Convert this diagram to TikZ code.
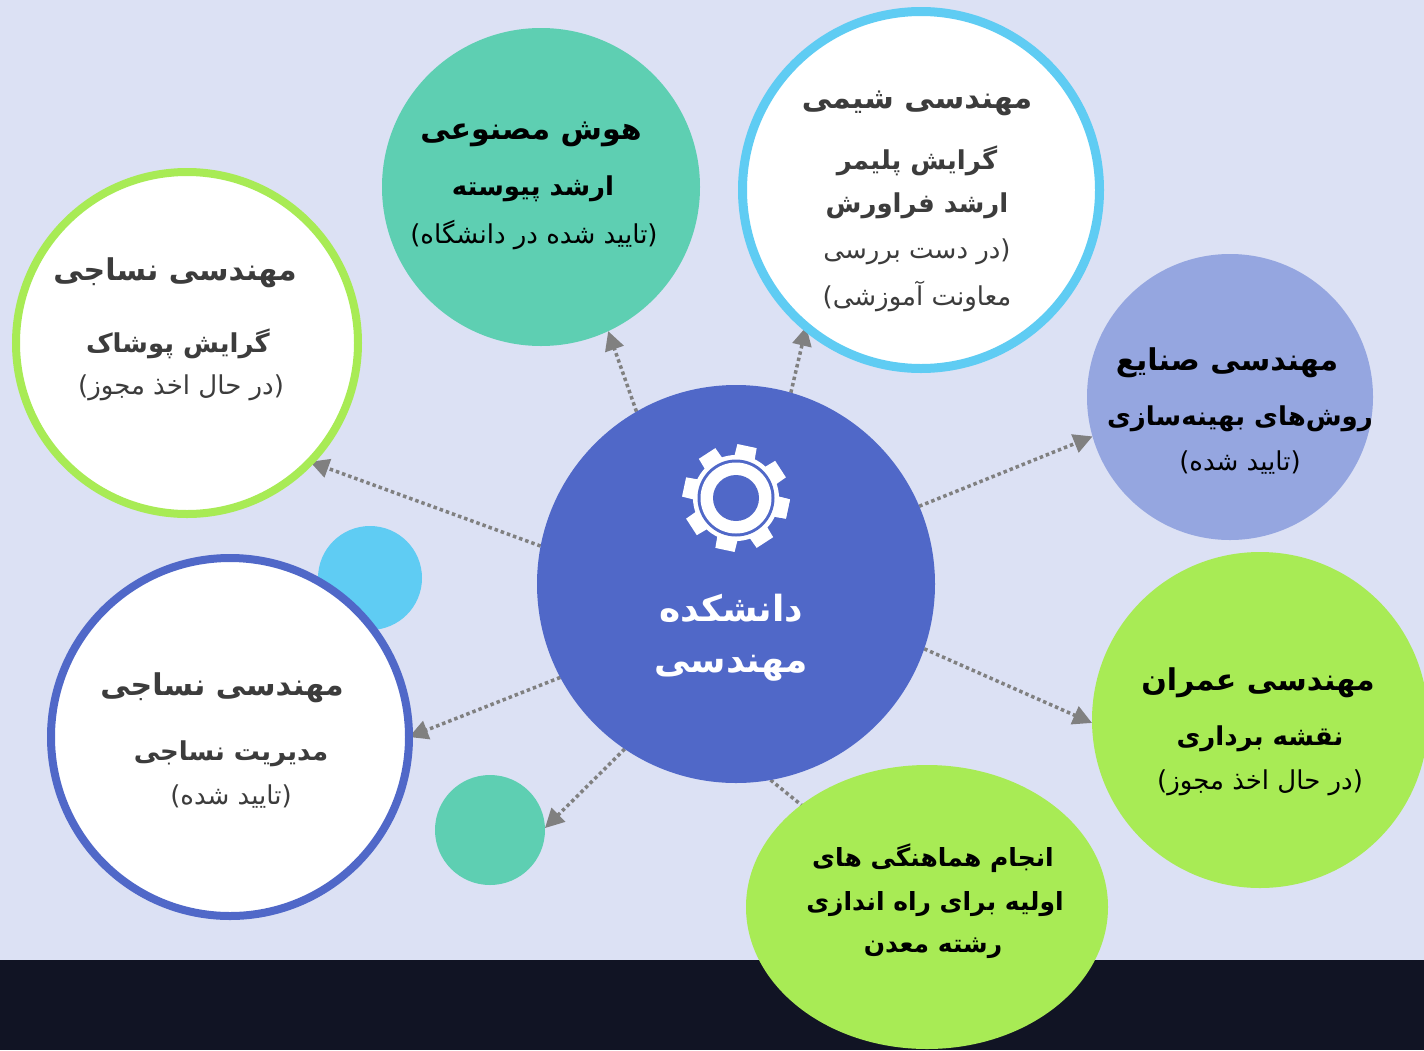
\documentclass[tikz,border=0pt]{standalone}
\usepackage{fontspec}
\usetikzlibrary{arrows.meta,shapes.geometric}
\TeXXeTstate=1
\newfontfamily\fa[Script=Arabic]{DejaVu Sans}
\definecolor{bgc}{HTML}{DCE1F4}
\definecolor{darkband}{HTML}{111424}
\definecolor{cblue}{HTML}{5068C8}
\definecolor{tealc}{HTML}{5ECFB2}
\definecolor{lblue}{HTML}{5FCCF3}
\definecolor{purplec}{HTML}{95A6E0}
\definecolor{greenc}{HTML}{A8EB55}
\definecolor{txtgray}{HTML}{3C3C3C}
\definecolor{arrgray}{HTML}{808080}
\pgfdeclarelayer{bgl}
\pgfdeclarelayer{arl}
\pgfsetlayers{bgl,arl,main}
\begin{document}
\begin{tikzpicture}[x=1pt,y=-1pt,
  disc/.style={circle,inner sep=0pt,outer sep=0pt},
  ttl/.style={font=\fa\bfseries\fontsize{30}{32}\selectfont,inner sep=0pt},
  sub/.style={font=\fa\bfseries\fontsize{26}{28}\selectfont,inner sep=0pt},
  mn/.style={font=\fa\bfseries\fontsize{25}{27}\selectfont,inner sep=0pt},
  note/.style={font=\fa\fontsize{26}{28}\selectfont,inner sep=0pt},
  ctr/.style={font=\fa\bfseries\fontsize{36}{38}\selectfont,inner sep=0pt,text=white},
  arr/.style={draw=arrgray,line width=3.5pt,dash pattern=on 3.5pt off 3pt,
    -{Triangle[length=19pt,width=19pt]}}]
\useasboundingbox (0,0) rectangle (1424,1050);
\begin{pgfonlayer}{bgl}
  \fill[bgc] (0,0) rectangle (1424,1050);
  \fill[darkband] (0,960) rectangle (1424,1050);
\end{pgfonlayer}

% circles
\node[disc,fill=tealc,minimum size=318pt] (ai) at (541,187) {};
\node[disc,fill=white,draw=lblue,line width=9pt,minimum size=357pt] (chem) at (921,190) {};
\node[disc,fill=white,draw=greenc,line width=8pt,minimum size=342pt] (lt) at (187,343) {};
\node[disc,fill=purplec,minimum size=286pt] (ind) at (1230,397) {};
\node[disc,fill=greenc,minimum size=336pt] (civ) at (1260,720) {};
\node[ellipse,inner sep=0pt,outer sep=0pt,fill=greenc,minimum width=362pt,minimum height=284pt] (mine) at (927,907) {};
\node[disc,fill=lblue,minimum size=104pt] (sb) at (370,578) {};
\node[disc,fill=white,draw=cblue,line width=8pt,minimum size=358pt] (lb) at (230,737) {};
\node[disc,fill=tealc,minimum size=110pt] (st) at (490,830) {};
\node[disc,fill=cblue,minimum size=398pt] (c) at (736,584) {};

% connectors
\begin{pgfonlayer}{arl}
  \draw[arr] (c.120.8) -- (ai.-65.6);
  \draw[arr] (c.74.4) -- (chem.-130.9);
  \draw[arr] (c.23.1) -- (ind.-164);
  \draw[arr] (c.-19.6) -- (civ.181);
  \draw[arr] (c.-80.8) -- (mine.center);
  \draw[arr] (c.-124.2) -- (st.2);
  \draw[arr] (c.-152.8) -- (lb.-0.3);
  \draw[arr] (c.169.4) -- (lt.-44);
\end{pgfonlayer}

% gear icon
\begin{scope}[shift={(736,498)}]
  \fill[white] (0,0) circle (43);
  \foreach \a in {12,57,...,372} {
    \fill[white] (\a-16:38) -- (\a-10.5:54) -- (\a+10.5:54) -- (\a+16:38) -- cycle;
  }
  \fill[cblue] (0,0) circle (38.5);
  \fill[white] (0,0) circle (35.5);
  \fill[cblue] (0,0) circle (23);
\end{scope}

% center text
\node[ctr] (c1) at (731,608) {\beginR دانشکده\endR};
\node[ctr] (c2) at (731,668) {\beginR مهندسی\endR};

% AI
\node[ttl] (ai1) at (531,134) {\beginR هوش مصنوعی\endR};
\node[sub] (ai2) at (533,189) {\beginR ارشد پیوسته\endR};
\node[note] (ai3) at (534,235) {\beginR (تایید شده در دانشگاه)\endR};

% chemistry
\node[ttl,text=txtgray] (ch1) at (917,103) {\beginR مهندسی شیمی\endR};
\node[sub,text=txtgray] (ch2) at (917,161) {\beginR گرایش پلیمر\endR};
\node[sub,text=txtgray] (ch3) at (917,206) {\beginR ارشد فراورش\endR};
\node[note,text=txtgray] (ch4) at (917,252) {\beginR (در دست بررسی\endR};
\node[note,text=txtgray] (ch5) at (917,296) {\beginR معاونت آموزشی)\endR};

% left top
\node[ttl,text=txtgray] (lt1) at (175,273) {\beginR مهندسی نساجی\endR};
\node[sub,text=txtgray] (lt2) at (178,344) {\beginR گرایش پوشاک\endR};
\node[note,text=txtgray] (lt3) at (181,388) {\beginR (در حال اخذ مجوز)\endR};

% industrial
\node[ttl] (in1) at (1227,363) {\beginR مهندسی صنایع\endR};
\node[sub] (in2) at (1240,419) {\beginR روش‌های بهینه‌سازی\endR};
\node[note] (in3) at (1240,463) {\beginR (تایید شده)\endR};

% civil
\node[ttl] (cv1) at (1258,683) {\beginR مهندسی عمران\endR};
\node[sub] (cv2) at (1260,739) {\beginR نقشه برداری\endR};
\node[note] (cv3) at (1260,783) {\beginR (در حال اخذ مجوز)\endR};

% mining
\node[mn] (mn1) at (933,858) {\beginR انجام هماهنگی های\endR};
\node[mn] (mn2) at (935,904) {\beginR اولیه برای راه اندازی\endR};
\node[mn] (mn3) at (933,948) {\beginR رشته معدن\endR};

% left bottom
\node[ttl,text=txtgray] (lb1) at (222,688) {\beginR مهندسی نساجی\endR};
\node[sub,text=txtgray] (lb2) at (231,754) {\beginR مدیریت نساجی\endR};
\node[note,text=txtgray] (lb3) at (231,797) {\beginR (تایید شده)\endR};
\end{tikzpicture}
\end{document}
